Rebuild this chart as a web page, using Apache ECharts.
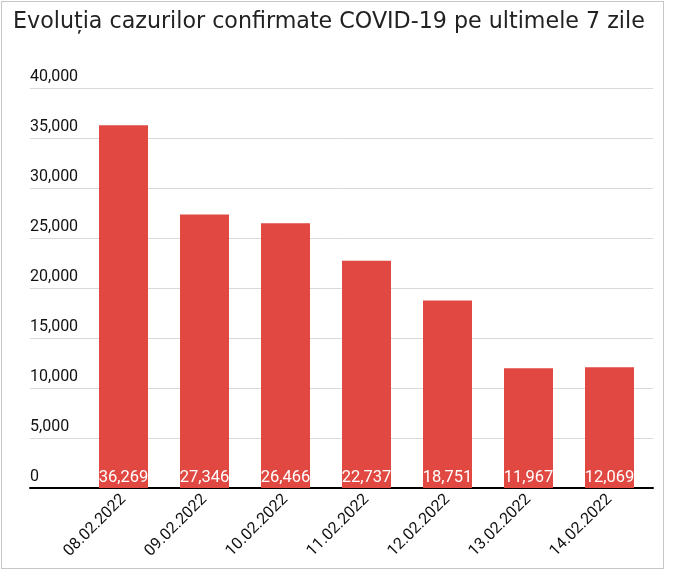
<!DOCTYPE html>
<html>
<head>
<meta charset="utf-8">
<script src="https://cdn.jsdelivr.net/npm/echarts@6/dist/echarts.min.js"></script>
<style>
	html,body{margin:0;padding:0;background:#fff;}
	#wrap{position:relative;width:678px;height:577px;}
	#main{width:678px;height:577px;}
	#frame{position:absolute;left:1px;top:1px;width:661px;height:566px;border:1px solid #c6c6c6;pointer-events:none;}
</style>
</head>
<body>
<div id="wrap">
	<div id="main"></div>
	<div id="frame"></div>
</div>
<script>
var titleText = "Evoluția cazurilor confirmate COVID-19 pe ultimele 7 zile";
var days = ["08.02.2022","09.02.2022","10.02.2022","11.02.2022","12.02.2022","13.02.2022","14.02.2022"];
var cases = [36269,27346,26466,22737,18751,11967,12069];
var yMin = 0, yMax = 40000, yStep = 5000;

var myChart = echarts.init(document.getElementById('main'));
var font = 'Roboto';
var option = {
	animation : false,
	backgroundColor : '#fff',
	title : {
		text : titleText,
		left : 8,
		top : 6,
		textStyle : {fontFamily:'DejaVu Sans', fontSize:22.2, fontWeight:'normal', color:'#222'}
	},
	grid : [
		{left:30, right:25, top:88, bottom:89},   // gridlines + baseline
		{left:83, right:28, top:88, bottom:89}    // bars
	],
	xAxis : [{
		gridIndex : 0,
		type : 'value',
		min : 0, max : 1,
		axisLine : {show:true, onZero:false, lineStyle:{color:'#000', width:2}},
		axisTick : {show:false},
		axisLabel : {show:false},
		splitLine : {show:false}
	},{
		gridIndex : 1,
		type : 'category',
		data : days,
		axisLine : {show:false},
		axisTick : {show:false},
		axisLabel : {rotate:45, margin:9, fontFamily:font, fontSize:16, color:'#111'}
	}],
	yAxis : [{
		gridIndex : 0,
		type : 'value',
		min : yMin, max : yMax, interval : yStep,
		axisLine : {show:false},
		axisTick : {show:false},
		axisLabel : {
			inside : true, margin : 0, verticalAlign : 'bottom', padding : [0,0,3,0],
			fontFamily : font, fontSize : 16, color : '#111',
			formatter : function(v){ return v.toLocaleString('en-US'); }
		},
		splitLine : {lineStyle:{color:'#d9d9d9', width:1}}
	},{
		gridIndex : 1,
		type : 'value',
		min : yMin, max : yMax, interval : yStep,
		show : false
	}],
	series : [{
		type : 'bar',
		xAxisIndex : 1,
		yAxisIndex : 1,
		data : cases,
		barWidth : 49,
		itemStyle : {color:'#e04841'},
		label : {
			show : true,
			position : 'insideBottom',
			distance : 2,
			fontFamily : font, fontSize : 16.5, color : '#fff',
			formatter : function(p){ return p.value.toLocaleString('en-US'); }
		}
	}]
};
myChart.setOption(option);
</script>
</body>
</html>
